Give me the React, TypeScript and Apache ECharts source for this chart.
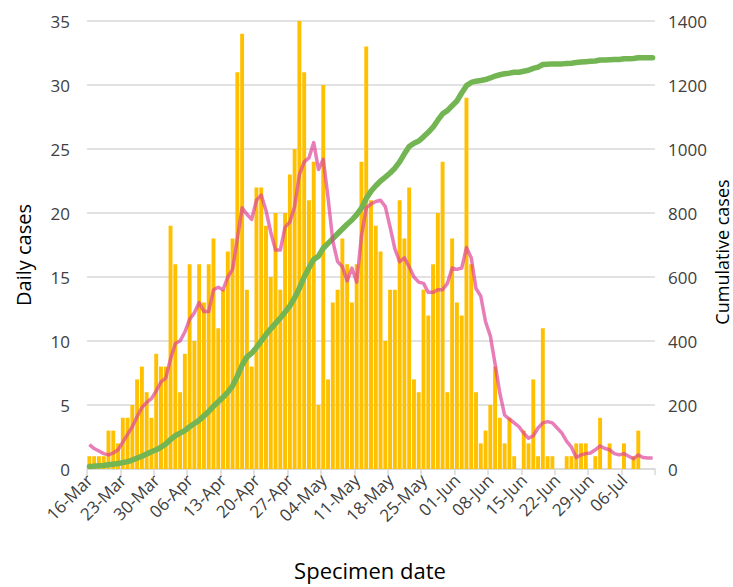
import React, { useEffect, useRef } from "react";
import * as echarts from "echarts";

// 16-Mar to 12-Jul (119 days)
const START = { year: 2020, month: 2, day: 16 };
const DAY_COUNT = 119;
const MONTHS = ["Jan", "Feb", "Mar", "Apr", "May", "Jun", "Jul", "Aug", "Sep", "Oct", "Nov", "Dec"];
const categories: string[] = [];
for (let i = 0; i < DAY_COUNT; i++) {
  const d = new Date(START.year, START.month, START.day + i);
  categories.push(String(d.getDate()).padStart(2, "0") + "-" + MONTHS[d.getMonth()]);
}

const dailyCases = [
  1, 1, 1, 1, 3, 3, 2,
  4, 4, 5, 7, 8, 6, 4,
  9, 8, 8, 19, 16, 6, 9,
  16, 10, 16, 13, 16, 18, 11,
  14, 17, 18, 31, 34, 14, 8,
  22, 22, 19, 15, 20, 14, 20,
  23, 25, 35, 31, 21, 24, 5,
  30, 7, 13, 14, 18, 16, 13,
  16, 24, 33, 21, 19, 17, 10,
  14, 14, 21, 18, 22, 7, 6,
  14, 12, 16, 20, 24, 6, 18,
  13, 12, 29, 16, 6, 2, 3,
  5, 8, 4, 2, 4, 1, 0,
  3, 2, 7, 1, 11, 1, 1,
  0, 0, 1, 1, 2, 2, 2,
  0, 1, 4, 0, 2, 0, 0,
  2, 0, 1, 3, 0, 0, 0,
];

const movingAverage = [
  1.9, 1.6, 1.4, 1.2, 1.1, 1.25, 1.5,
  2.1, 2.7, 3.3, 4.1, 4.8, 5.2, 5.5,
  6.1, 6.8, 7.1, 8.6, 9.8, 10.0, 10.7,
  11.7, 12.2, 13.0, 12.3, 12.3, 14.0, 14.2,
  14.0, 15.0, 15.6, 18.0, 20.4, 19.9, 19.5,
  21.0, 21.4, 20.2, 18.5, 17.1, 17.1, 18.9,
  19.3, 20.5, 23.0, 24.0, 24.3, 25.5, 23.4,
  24.2, 21.2, 17.8, 16.2, 15.8, 14.7, 15.7,
  14.6, 18.2, 20.4, 20.7, 20.9, 21.0, 20.5,
  18.9, 17.2, 16.2, 16.5, 15.8, 15.0, 14.6,
  14.5, 13.8, 13.8, 14.0, 14.0, 14.5, 15.7,
  15.6, 15.7, 17.3, 16.5, 14.1, 13.5, 11.5,
  10.4, 8.2, 5.9, 4.2, 3.9, 3.6, 3.3,
  2.8, 2.4, 2.6, 3.2, 3.6, 3.7, 3.6,
  3.2, 2.8, 2.15, 1.7, 0.9, 1.1, 1.2,
  1.25, 1.5, 1.8, 1.6, 1.5, 1.2, 1.1,
  1.2, 1.0, 0.8, 1.1, 0.9, 0.86, 0.86,
];

const cumulativeCases = [
  8, 9, 10, 11, 13, 15, 17,
  20, 23, 28, 34, 40, 47, 54,
  60, 68, 78, 92, 104, 112, 120,
  132, 142, 152, 166, 180, 196, 210,
  224, 240, 260, 290, 325, 350, 362,
  380, 400, 420, 438, 455, 472, 490,
  510, 535, 565, 600, 628, 655, 665,
  690, 705, 720, 735, 750, 765, 778,
  795, 815, 845, 868, 885, 900, 912,
  925, 940, 960, 985, 1008, 1018, 1025,
  1038, 1052, 1068, 1090, 1110, 1120, 1135,
  1150, 1175, 1198, 1208, 1212, 1214, 1217,
  1222, 1228, 1232, 1235, 1237, 1240, 1240,
  1243, 1246, 1252, 1256, 1264, 1265, 1266,
  1266, 1266, 1267, 1268, 1270, 1272, 1273,
  1274, 1275, 1278, 1278, 1279, 1280, 1280,
  1282, 1282, 1283, 1285, 1285, 1285, 1285,
];

const FONT = "'Open Sans', 'Noto Sans', sans-serif";
const TEXT_COLOR = "#404040";

export default function App() {
  const ref = useRef<HTMLDivElement>(null);
  useEffect(() => {
    if (!ref.current) return;
    const chart = echarts.init(ref.current, null, { renderer: "svg" });
    chart.setOption({
      animation: false,
      backgroundColor: "#ffffff",
      textStyle: { fontFamily: FONT },
      grid: { left: 87, right: 78, top: 21, bottom: 118, containLabel: false },
      xAxis: {
        type: "category",
        data: categories,
        boundaryGap: true,
        axisLine: { show: true, lineStyle: { color: "#d9d9d9", width: 1.5 } },
        axisTick: { show: true, interval: 6, length: 6, lineStyle: { color: "#d9d9d9", width: 1.5 } },
        axisLabel: {
          interval: 6,
          rotate: 45,
          margin: 8,
          fontSize: 17,
          color: TEXT_COLOR,
          fontFamily: FONT,
        },
        splitLine: { show: false },
      },
      yAxis: [
        {
          type: "value",
          min: 0,
          max: 35,
          interval: 5,
          axisLine: { show: false },
          axisTick: { show: false },
          axisLabel: { fontSize: 17, color: TEXT_COLOR, margin: 17, fontFamily: FONT },
          splitLine: { show: true, lineStyle: { color: "#d9d9d9", width: 1.5 } },
        },
        {
          type: "value",
          min: 0,
          max: 1400,
          interval: 200,
          position: "right",
          axisLine: { show: false },
          axisTick: { show: false },
          axisLabel: {
            fontSize: 17,
            color: TEXT_COLOR,
            margin: 13,
            fontFamily: FONT,
            formatter: (v: number) => String(v),
          },
          splitLine: { show: false },
        },
      ],
      series: [
        {
          name: "Daily cases",
          type: "bar",
          data: dailyCases,
          yAxisIndex: 0,
          barCategoryGap: "18%",
          itemStyle: { color: "#ffc000" },
          z: 1,
        },
        {
          name: "Cumulative cases",
          type: "line",
          data: cumulativeCases,
          yAxisIndex: 1,
          symbol: "none",
          lineStyle: { color: "#73b553", width: 5.5, cap: "round", join: "round" },
          z: 2,
        },
        {
          name: "7-day average",
          type: "line",
          data: movingAverage,
          yAxisIndex: 0,
          symbol: "none",
          lineStyle: { color: "rgba(221, 64, 150, 0.68)", width: 3.5, join: "round" },
          z: 3,
        },
      ],
      graphic: [
        {
          type: "text",
          x: 23,
          y: 255,
          rotation: Math.PI / 2,
          style: {
            text: "Daily cases",
            fontSize: 20,
            fontFamily: FONT,
            fill: "#000000",
            align: "center",
            verticalAlign: "middle",
          },
        },
        {
          type: "text",
          x: 722,
          y: 252,
          rotation: Math.PI / 2,
          style: {
            text: "Cumulative cases",
            fontSize: 18,
            fontFamily: FONT,
            fill: "#000000",
            align: "center",
            verticalAlign: "middle",
          },
        },
        {
          type: "text",
          x: 370,
          y: 570,
          style: {
            text: "Specimen date",
            fontSize: 22,
            fontFamily: FONT,
            fill: "#000000",
            align: "center",
            verticalAlign: "middle",
          },
        },
      ],
    });
    return () => chart.dispose();
  }, []);
  return (
    <div
      ref={ref}
      style={{ position: "fixed", left: 0, top: 0, width: 733, height: 587 }}
    />
  );
}
